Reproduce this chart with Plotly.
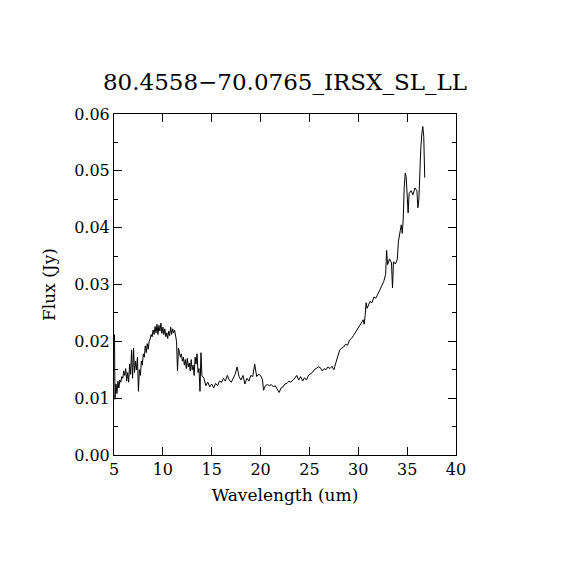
import plotly.graph_objects as go

# spectrum (um, Jy)
wavelength = [
    5.05, 5.10, 5.2, 5.3, 5.4, 5.5, 5.6, 5.7, 5.8, 5.9,
    6.0, 6.1, 6.2, 6.3, 6.4, 6.5, 6.6, 6.7, 6.8, 6.9,
    7.0, 7.1, 7.2, 7.3, 7.4, 7.5, 7.6, 7.7, 7.8, 7.9,
    8.0, 8.1, 8.2, 8.3, 8.4, 8.5, 8.6, 8.7, 8.8, 8.9,
    9.0, 9.1, 9.2, 9.3, 9.4, 9.5, 9.6, 9.7, 9.8, 9.9,
    10.0, 10.1, 10.2, 10.3, 10.4, 10.5, 10.6, 10.7, 10.8, 10.9,
    11.0, 11.1, 11.2, 11.3, 11.4, 11.5, 11.6, 11.7, 11.8, 11.9,
    12.0, 12.1, 12.2, 12.3, 12.4, 12.5, 12.6, 12.7, 12.8, 12.9,
    13.0, 13.1, 13.2, 13.3, 13.4, 13.5, 13.6, 13.7, 13.8, 13.9,
    14.0, 14.2, 14.4, 14.6, 14.8, 15.0, 15.2, 15.4, 15.6, 15.8,
    16.0, 16.2, 16.4, 16.6, 16.8, 17.0, 17.2, 17.4, 17.6, 17.8,
    18.0, 18.2, 18.4, 18.6, 18.8, 19.0, 19.2, 19.4, 19.6, 19.8,
    20.0, 20.2, 20.3, 20.5, 20.7, 20.9, 21.1, 21.3, 21.5, 21.7,
    21.9, 22.1, 22.3, 22.5, 22.7, 22.9, 23.1, 23.3, 23.5, 23.7,
    23.9, 24.1, 24.3, 24.5, 24.7, 24.9, 25.1, 25.3, 25.5, 25.7,
    25.9, 26.1, 26.3, 26.5, 26.7, 26.9, 27.1, 27.3, 27.5, 27.7,
    27.9, 28.1, 28.3, 28.5, 28.7, 28.9, 29.1, 29.3, 29.5, 29.7,
    29.9, 30.1, 30.3, 30.5, 30.6, 30.7, 30.8, 30.9, 31.0, 31.2,
    31.4, 31.6, 31.8, 32.0, 32.2, 32.4, 32.6, 32.8, 32.9, 33.0,
    33.2, 33.4, 33.5, 33.6, 33.8, 34.0, 34.1, 34.3, 34.4, 34.5,
    34.6, 34.7, 34.8, 34.9, 35.0, 35.1, 35.2, 35.4, 35.6, 35.8,
    36.0, 36.1, 36.2, 36.3, 36.4, 36.5, 36.6, 36.7, 36.8,
]
flux = [
    0.0212, 0.0098, 0.0125, 0.0108, 0.0130, 0.0118, 0.0132, 0.0128, 0.0138, 0.0135,
    0.0148, 0.0140, 0.0152, 0.0130, 0.0145, 0.0128, 0.0160, 0.0142, 0.0185, 0.0135,
    0.0188, 0.0145, 0.0165, 0.0150, 0.0172, 0.0112, 0.0150, 0.0140, 0.0165, 0.0158,
    0.0178, 0.0172, 0.0192, 0.0180, 0.0196, 0.0186, 0.0200, 0.0204, 0.0212, 0.0208,
    0.0220, 0.0212, 0.0226, 0.0215, 0.0230, 0.0212, 0.0228, 0.0218, 0.0232, 0.0214,
    0.0225, 0.0212, 0.0222, 0.0208, 0.0215, 0.0205, 0.0218, 0.0210, 0.0225, 0.0212,
    0.0222, 0.0215, 0.0220, 0.0205, 0.0200, 0.0148, 0.0188, 0.0180, 0.0172, 0.0178,
    0.0165, 0.0172, 0.0158, 0.0168, 0.0152, 0.0170, 0.0155, 0.0162, 0.0148, 0.0168,
    0.0150, 0.0158, 0.0140, 0.0172, 0.0160, 0.0178, 0.0145, 0.0152, 0.0112, 0.0180,
    0.0140, 0.0135, 0.0122, 0.0128, 0.0120, 0.0125, 0.0118, 0.0126, 0.0122, 0.0130,
    0.0128, 0.0135, 0.0130, 0.0140, 0.0132, 0.0128, 0.0136, 0.0142, 0.0155, 0.0138,
    0.0132, 0.0140, 0.0125, 0.0135, 0.0130, 0.0140, 0.0138, 0.0160, 0.0138, 0.0142,
    0.0140, 0.0132, 0.0114, 0.0122, 0.0124, 0.0122, 0.0124, 0.0120, 0.0122, 0.0116,
    0.0110, 0.0118, 0.0120, 0.0125, 0.0126, 0.0130, 0.0128, 0.0132, 0.0135, 0.0140,
    0.0132, 0.0138, 0.0130, 0.0136, 0.0132, 0.0140, 0.0142, 0.0145, 0.0150, 0.0152,
    0.0155, 0.0154, 0.0148, 0.0152, 0.0150, 0.0155, 0.0152, 0.0156, 0.0150, 0.0162,
    0.0175, 0.0185, 0.0188, 0.0190, 0.0195, 0.0193, 0.0202, 0.0205, 0.0210, 0.0215,
    0.0222, 0.0225, 0.0232, 0.0238, 0.0230, 0.0245, 0.0268, 0.0258, 0.0262, 0.0270,
    0.0268, 0.0278, 0.0276, 0.0282, 0.0290, 0.0298, 0.0305, 0.0318, 0.0360, 0.0335,
    0.0345, 0.0338, 0.0294, 0.0340, 0.0336, 0.0345, 0.0375, 0.0395, 0.0405, 0.0390,
    0.0415, 0.0470, 0.0496, 0.0490, 0.0440, 0.0426, 0.0460, 0.0465, 0.0458, 0.0470,
    0.0465, 0.0435, 0.0450, 0.0520, 0.0540, 0.0565, 0.0578, 0.0560, 0.0488,
]

title = "80.4558\u221270.0765_IRSX_SL_LL"
font = "DejaVu Serif"

fig = go.Figure()
fig.add_trace(go.Scatter(
    x=wavelength,
    y=flux,
    mode="lines",
    line=dict(color="black", width=1),
    showlegend=False,
))

axis_common = dict(
    showgrid=False,
    zeroline=False,
    showline=True,
    linecolor="black",
    linewidth=1,
    mirror="ticks",
    ticks="inside",
    ticklen=8,
    tickcolor="black",
    tickfont=dict(family=font, size=16, color="black"),
)

# the page puts the plot 8px in from the corner, so the margins allow for it
fig.update_layout(
    width=570,
    height=570,
    margin=dict(l=106, r=122, t=106, b=123),
    paper_bgcolor="white",
    plot_bgcolor="white",
    title=dict(
        text=title,
        x=0.5,
        xref="paper",
        y=1 - 74 / 570,
        yanchor="middle",
        font=dict(family=font, size=23, color="black"),
    ),
    xaxis=dict(
        axis_common,
        range=[5, 40],
        dtick=5,
        tick0=5,
        title=dict(text="Wavelength (um)", standoff=10,
                   font=dict(family=font, size=17, color="black")),
    ),
    yaxis=dict(
        axis_common,
        range=[0, 0.06],
        dtick=0.01,
        tickformat=".2f",
        minor=dict(ticks="inside", dtick=0.005, ticklen=4, tickcolor="black"),
        title=dict(text="Flux (Jy)", standoff=14,
                   font=dict(family=font, size=17, color="black")),
    ),
)

fig.write_html("out.html")
